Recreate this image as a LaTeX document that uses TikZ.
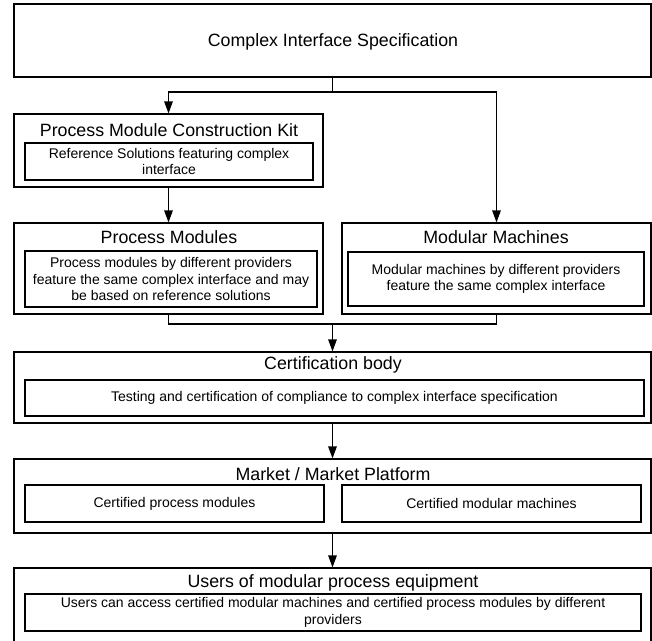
\documentclass[tikz,border=0pt]{standalone}
\usepackage{fontspec}
\setmainfont{Liberation Sans}
\usetikzlibrary{arrows.meta,shadows}
\begin{document}
\begin{tikzpicture}[x=1pt,y=-1pt,
  frame/.style={draw=black, line width=1.1pt, fill=white, rectangle, inner sep=0pt,
    drop shadow={shadow xshift=1.2pt, shadow yshift=-1.2pt, fill=black!65, opacity=1}},
  title/.style={font=\fontsize{17.8}{20}\selectfont, inner sep=0pt},
  body/.style={font=\fontsize{14}{16.6}\selectfont, align=center},
  conn/.style={line width=1.1pt},
  arr/.style={conn, -{Triangle[length=12pt,width=8.5pt]}}]
\useasboundingbox (0,0) rectangle (652,640);
\clip (0,0) rectangle (652,640);

% top level specification
\node[frame, minimum width=637pt, minimum height=73pt] (spec) at (332.5,40.5) {};
\node[title] (specT) at (333,42) {Complex Interface Specification};

% construction kit
\node[frame, minimum width=309pt, minimum height=73pt] (kit) at (168.5,150.5) {};
\node[title] (kitT) at (169,130) {Process Module Construction Kit};
\node[frame, body, minimum width=288pt, minimum height=37pt] (kitIn) at (169,161.5)
  {Reference Solutions featuring complex\\interface};

% process modules
\node[frame, minimum width=309pt, minimum height=91pt] (pm) at (168.5,268.5) {};
\node[title] (pmT) at (169,237) {Process Modules};
\node[frame, body, minimum width=292pt, minimum height=56pt] (pmIn) at (171,279)
  {Process modules by different providers\\feature the same complex interface and may\\be based on reference solutions};

% modular machines
\node[frame, minimum width=309pt, minimum height=91pt] (mm) at (496.5,268.5) {};
\node[title] (mmT) at (496,237) {Modular Machines};
\node[frame, body, minimum width=296pt, minimum height=54pt] (mmIn) at (496,279)
  {Modular machines by different providers\\feature the same complex interface};

% certification
\node[frame, minimum width=637pt, minimum height=71pt] (cert) at (332.5,387.5) {};
\node[title] (certT) at (333,365) {Certification body};
\node[frame, body, minimum width=619pt, minimum height=36pt] (certIn) at (334.5,398)
  {Testing and certification of compliance to complex interface specification};

% market
\node[frame, minimum width=637pt, minimum height=74pt] (market) at (332.5,496) {};
\node[title] (marketT) at (333,474) {Market / Market Platform};
\node[frame, body, minimum width=299pt, minimum height=37pt] (mkL) at (174.5,503.5) {Certified process modules};
\node[frame, body, minimum width=299pt, minimum height=37pt] (mkR) at (491.5,503.5) {Certified modular machines};

% users
\node[frame, minimum width=637pt, minimum height=84pt] (users) at (332.5,610) {};
\node[title] (usersT) at (333,583) {Users of modular process equipment};
\node[frame, body, minimum width=616pt, minimum height=37pt] (usersIn) at (333,612.5)
  {Users can access certified modular machines and certified process modules by different\\providers};

% connectors
\coordinate (split) at (332.5,92);
\coordinate (merge) at (332.5,324);
\draw[conn] (spec.south) -- (split);
\draw[arr] (split) -| (kit.north);
\draw[arr] (split) -| (mm.north);
\draw[arr] (kit.south) -- (pm.north);
\draw[conn] (pm.south) |- (merge);
\draw[conn] (mm.south) |- (merge);
\draw[arr] (merge) -- (cert.north);
\draw[arr] (cert.south) -- (market.north);
\draw[arr] (market.south) -- (users.north);
\end{tikzpicture}
\end{document}
